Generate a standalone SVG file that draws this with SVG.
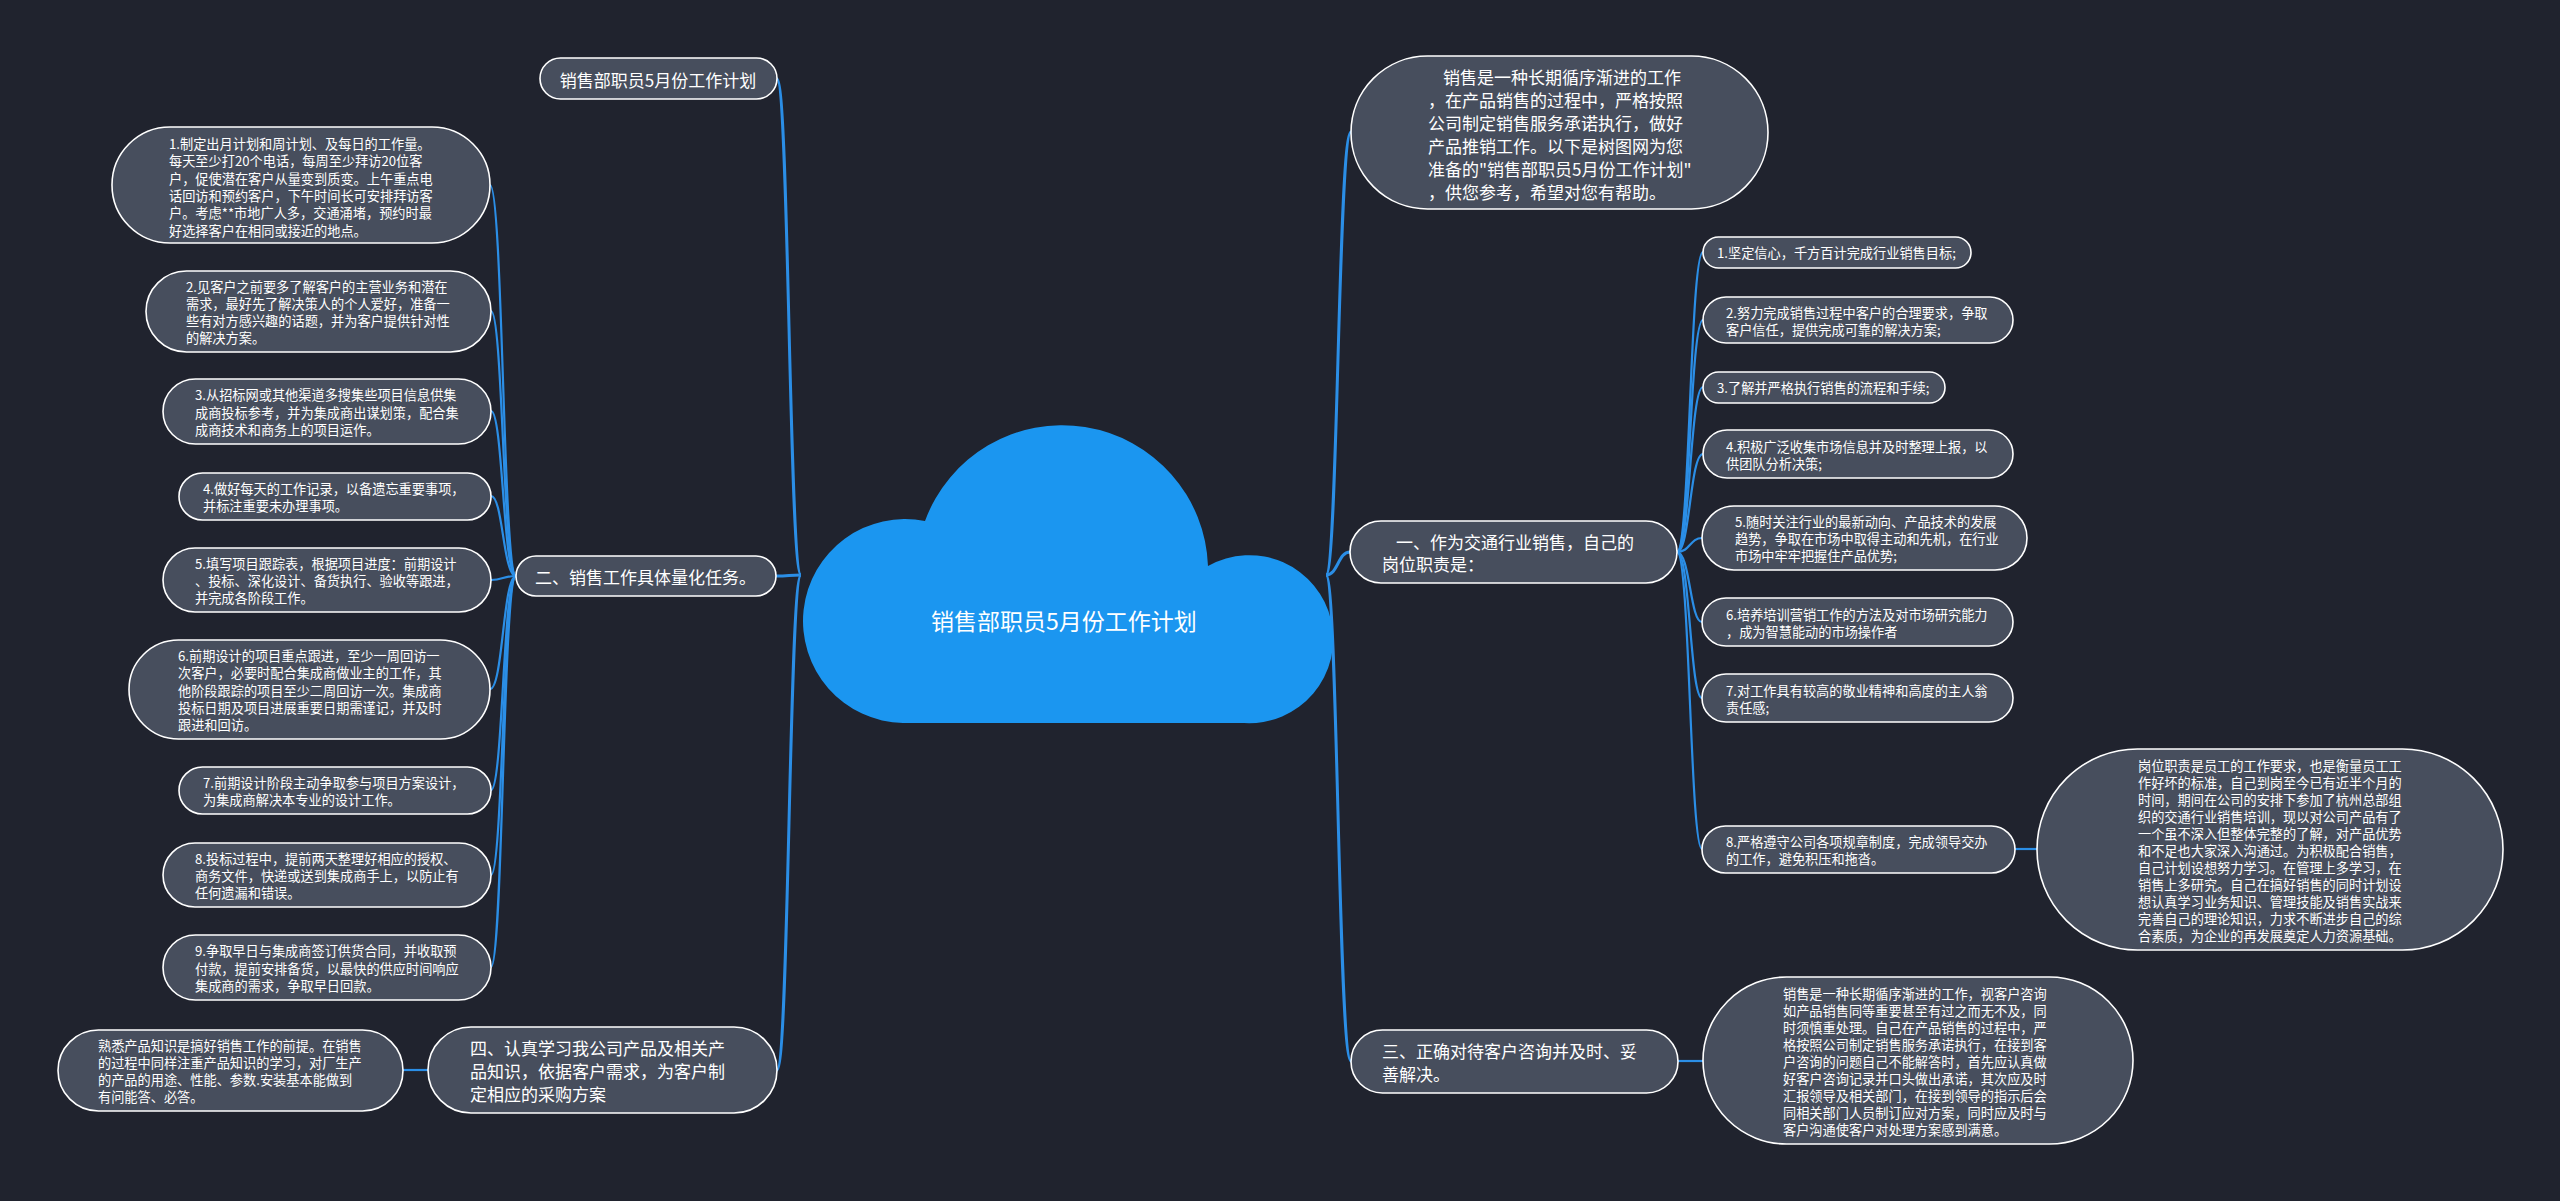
<svg xmlns="http://www.w3.org/2000/svg" width="2560" height="1201" viewBox="0 0 2560 1201">
<style>
.bg{fill:#20232e}
.nd{fill:#474e5d;stroke:#ffffff;stroke-width:1.6}
.ln{fill:none;stroke:#2b8ee6;stroke-width:2.2}
.ln1{fill:none;stroke:#2b8ee6;stroke-width:3}
text{font-family:"Noto Sans CJK SC","Microsoft YaHei",sans-serif;fill:#ffffff;dominant-baseline:central}
.s{font-size:13.2px}
.m{font-size:17px}
.c{font-size:23px;text-anchor:middle}
</style>
<rect class="bg" x="0" y="0" width="2560" height="1201"/>

<g id="connectors">
  <path class="ln1" d="M801 575 C789 575 789 79 777 79"/>
  <path class="ln1" d="M801 575 C789 575 789 576 776 576"/>
  <path class="ln1" d="M801 575 C789 575 789 1070 777 1070"/>
  <path class="ln1" d="M1326 575 C1338 575 1338 132 1351 132"/>
  <path class="ln1" d="M1326 575 C1338 575 1338 552 1350 552"/>
  <path class="ln1" d="M1326 575 C1338 575 1338 1061 1351 1061"/>
  <path class="ln" d="M516 576 C503 576 503 185 490 185"/>
  <path class="ln" d="M516 576 C503 576 503 311 491 311"/>
  <path class="ln" d="M516 576 C503 576 503 411 491 411"/>
  <path class="ln" d="M516 576 C503 576 503 496 491 496"/>
  <path class="ln" d="M516 576 C503 576 503 580 491 580"/>
  <path class="ln" d="M516 576 C503 576 503 689 490 689"/>
  <path class="ln" d="M516 576 C503 576 503 790 491 790"/>
  <path class="ln" d="M516 576 C503 576 503 875 491 875"/>
  <path class="ln" d="M516 576 C503 576 503 967 491 967"/>
  <path class="ln" d="M428 1070 L403 1070"/>
  <path class="ln" d="M1677 552 C1690 552 1690 252 1703 252"/>
  <path class="ln" d="M1677 552 C1690 552 1690 320 1703 320"/>
  <path class="ln" d="M1677 552 C1690 552 1690 387 1703 387"/>
  <path class="ln" d="M1677 552 C1690 552 1690 454 1703 454"/>
  <path class="ln" d="M1677 552 C1690 552 1690 538 1702 538"/>
  <path class="ln" d="M1677 552 C1690 552 1690 622 1702 622"/>
  <path class="ln" d="M1677 552 C1690 552 1690 698 1702 698"/>
  <path class="ln" d="M1677 552 C1690 552 1690 849 1702 849"/>
  <path class="ln" d="M2015 849 L2037 849"/>
  <path class="ln" d="M1678 1061 L1703 1061"/>
</g>

<g id="root">
  <path d="M903 723 A102 102 0 1 1 925 521 A146 146 0 0 1 1208 566 A84 84 0 1 1 1244 723 Z" fill="#1b96f0"/>
  <text class="c" x="1064" y="620">销售部职员5月份工作计划</text>
</g>

<g id="n-title">
  <rect class="nd" x="540" y="58" width="237" height="41" rx="20.5"/>
  <text class="m" x="658" y="79" text-anchor="middle">销售部职员5月份工作计划</text>
</g>

<g id="n-er">
  <rect class="nd" x="516" y="556" width="260" height="40" rx="20"/>
  <text class="m" x="535" y="576">二、销售工作具体量化任务。</text>
</g>

<g id="n-l1">
  <rect class="nd" x="112" y="127" width="378" height="116" rx="58"/>
  <text class="s" x="169"><tspan x="169" y="143">1.制定出月计划和周计划、及每日的工作量。</tspan><tspan x="169" y="160.3">每天至少打20个电话，每周至少拜访20位客</tspan><tspan x="169" y="177.6">户，促使潜在客户从量变到质变。上午重点电</tspan><tspan x="169" y="194.9">话回访和预约客户，下午时间长可安排拜访客</tspan><tspan x="169" y="212.2">户。考虑**市地广人多，交通涌堵，预约时最</tspan><tspan x="169" y="229.5">好选择客户在相同或接近的地点。</tspan></text>
</g>

<g id="n-l2">
  <rect class="nd" x="146" y="271" width="345" height="81" rx="40.5"/>
  <text class="s"><tspan x="186" y="285.5">2.见客户之前要多了解客户的主营业务和潜在</tspan><tspan x="186" y="302.8">需求，最好先了解决策人的个人爱好，准备一</tspan><tspan x="186" y="320.1">些有对方感兴趣的话题，并为客户提供针对性</tspan><tspan x="186" y="337.4">的解决方案。</tspan></text>
</g>

<g id="n-l3">
  <rect class="nd" x="163" y="379" width="328" height="65" rx="32.5"/>
  <text class="s"><tspan x="195" y="394.2">3.从招标网或其他渠道多搜集些项目信息供集</tspan><tspan x="195" y="411.5">成商投标参考，并为集成商出谋划策，配合集</tspan><tspan x="195" y="428.8">成商技术和商务上的项目运作。</tspan></text>
</g>

<g id="n-l4">
  <rect class="nd" x="179" y="473" width="312" height="47" rx="23.5"/>
  <text class="s"><tspan x="203" y="488">4.做好每天的工作记录，以备遗忘重要事项，</tspan><tspan x="203" y="505.3">并标注重要未办理事项。</tspan></text>
</g>

<g id="n-l5">
  <rect class="nd" x="163" y="548" width="328" height="64" rx="32"/>
  <text class="s"><tspan x="195" y="562.7">5.填写项目跟踪表，根据项目进度：前期设计</tspan><tspan x="195" y="580">、投标、深化设计、备货执行、验收等跟进，</tspan><tspan x="195" y="597.3">并完成各阶段工作。</tspan></text>
</g>

<g id="n-l6">
  <rect class="nd" x="129" y="640" width="361" height="99" rx="49.5"/>
  <text class="s"><tspan x="178" y="655">6.前期设计的项目重点跟进，至少一周回访一</tspan><tspan x="178" y="672.3">次客户，必要时配合集成商做业主的工作，其</tspan><tspan x="178" y="689.6">他阶段跟踪的项目至少二周回访一次。集成商</tspan><tspan x="178" y="706.9">投标日期及项目进展重要日期需谨记，并及时</tspan><tspan x="178" y="724.2">跟进和回访。</tspan></text>
</g>

<g id="n-l7">
  <rect class="nd" x="179" y="767" width="312" height="47" rx="23.5"/>
  <text class="s"><tspan x="203" y="782">7.前期设计阶段主动争取参与项目方案设计，</tspan><tspan x="203" y="799.3">为集成商解决本专业的设计工作。</tspan></text>
</g>

<g id="n-l8">
  <rect class="nd" x="163" y="843" width="328" height="64" rx="32"/>
  <text class="s"><tspan x="195" y="857.7">8.投标过程中，提前两天整理好相应的授权、</tspan><tspan x="195" y="875">商务文件，快递或送到集成商手上，以防止有</tspan><tspan x="195" y="892.3">任何遗漏和错误。</tspan></text>
</g>

<g id="n-l9">
  <rect class="nd" x="163" y="935" width="328" height="65" rx="32.5"/>
  <text class="s"><tspan x="195" y="950.2">9.争取早日与集成商签订供货合同，并收取预</tspan><tspan x="195" y="967.5">付款，提前安排备货，以最快的供应时间响应</tspan><tspan x="195" y="984.8">集成商的需求，争取早日回款。</tspan></text>
</g>

<g id="n-si">
  <rect class="nd" x="428" y="1027" width="349" height="86" rx="43"/>
  <text class="m"><tspan x="470" y="1047">四、认真学习我公司产品及相关产</tspan><tspan x="470" y="1070">品知识，依据客户需求，为客户制</tspan><tspan x="470" y="1093">定相应的采购方案</tspan></text>
</g>

<g id="n-si1">
  <rect class="nd" x="58" y="1030" width="345" height="81" rx="40.5"/>
  <text class="s"><tspan x="98" y="1044.5">熟悉产品知识是搞好销售工作的前提。在销售</tspan><tspan x="98" y="1061.8">的过程中同样注重产品知识的学习，对厂生产</tspan><tspan x="98" y="1079.1">的产品的用途、性能、参数.安装基本能做到</tspan><tspan x="98" y="1096.4">有问能答、必答。</tspan></text>
</g>

<g id="n-intro">
  <rect class="nd" x="1351" y="56" width="417" height="153" rx="76.5"/>
  <text class="m"><tspan x="1443" y="76">销售是一种长期循序渐进的工作</tspan><tspan x="1428" y="99">，在产品销售的过程中，严格按照</tspan><tspan x="1428" y="122">公司制定销售服务承诺执行，做好</tspan><tspan x="1428" y="145">产品推销工作。以下是树图网为您</tspan><tspan x="1428" y="168">准备的"销售部职员5月份工作计划"</tspan><tspan x="1428" y="191">，供您参考，希望对您有帮助。</tspan></text>
</g>

<g id="n-yi">
  <rect class="nd" x="1350" y="521" width="327" height="62" rx="31"/>
  <text class="m"><tspan x="1396" y="541">一、作为交通行业销售，自己的</tspan><tspan x="1382" y="563">岗位职责是：</tspan></text>
</g>

<g id="n-r1">
  <rect class="nd" x="1703" y="237" width="268" height="31" rx="15.5"/>
  <text class="s" x="1717" y="252.5">1.坚定信心，千方百计完成行业销售目标;</text>
</g>

<g id="n-r2">
  <rect class="nd" x="1703" y="297" width="310" height="46" rx="23"/>
  <text class="s"><tspan x="1726" y="311.5">2.努力完成销售过程中客户的合理要求，争取</tspan><tspan x="1726" y="328.5">客户信任，提供完成可靠的解决方案;</tspan></text>
</g>

<g id="n-r3">
  <rect class="nd" x="1703" y="372" width="242" height="31" rx="15.5"/>
  <text class="s" x="1717" y="387.5">3.了解并严格执行销售的流程和手续;</text>
</g>

<g id="n-r4">
  <rect class="nd" x="1703" y="430" width="310" height="48" rx="24"/>
  <text class="s"><tspan x="1726" y="445.5">4.积极广泛收集市场信息并及时整理上报，以</tspan><tspan x="1726" y="462.5">供团队分析决策;</tspan></text>
</g>

<g id="n-r5">
  <rect class="nd" x="1702" y="506" width="325" height="64" rx="32"/>
  <text class="s"><tspan x="1735" y="521">5.随时关注行业的最新动向、产品技术的发展</tspan><tspan x="1735" y="538">趋势，争取在市场中取得主动和先机，在行业</tspan><tspan x="1735" y="555">市场中牢牢把握住产品优势;</tspan></text>
</g>

<g id="n-r6">
  <rect class="nd" x="1702" y="598" width="311" height="48" rx="24"/>
  <text class="s"><tspan x="1726" y="613.5">6.培养培训营销工作的方法及对市场研究能力</tspan><tspan x="1726" y="630.5">，成为智慧能动的市场操作者</tspan></text>
</g>

<g id="n-r7">
  <rect class="nd" x="1702" y="674" width="311" height="48" rx="24"/>
  <text class="s"><tspan x="1726" y="689.5">7.对工作具有较高的敬业精神和高度的主人翁</tspan><tspan x="1726" y="706.5">责任感;</tspan></text>
</g>

<g id="n-r8">
  <rect class="nd" x="1702" y="826" width="313" height="47" rx="23.5"/>
  <text class="s"><tspan x="1726" y="841">8.严格遵守公司各项规章制度，完成领导交办</tspan><tspan x="1726" y="858">的工作，避免积压和拖沓。</tspan></text>
</g>

<g id="n-r8a">
  <rect class="nd" x="2037" y="749" width="466" height="201" rx="100.5"/>
  <text class="s"><tspan x="2138" y="764.5">岗位职责是员工的工作要求，也是衡量员工工</tspan><tspan x="2138" y="781.5">作好坏的标准，自己到岗至今已有近半个月的</tspan><tspan x="2138" y="798.5">时间，期间在公司的安排下参加了杭州总部组</tspan><tspan x="2138" y="815.5">织的交通行业销售培训，现以对公司产品有了</tspan><tspan x="2138" y="832.5">一个虽不深入但整体完整的了解，对产品优势</tspan><tspan x="2138" y="849.5">和不足也大家深入沟通过。为积极配合销售，</tspan><tspan x="2138" y="866.5">自己计划设想努力学习。在管理上多学习，在</tspan><tspan x="2138" y="883.5">销售上多研究。自己在搞好销售的同时计划设</tspan><tspan x="2138" y="900.5">想认真学习业务知识、管理技能及销售实战来</tspan><tspan x="2138" y="917.5">完善自己的理论知识，力求不断进步自己的综</tspan><tspan x="2138" y="934.5">合素质，为企业的再发展奠定人力资源基础。</tspan></text>
</g>

<g id="n-san">
  <rect class="nd" x="1351" y="1030" width="327" height="63" rx="31.5"/>
  <text class="m"><tspan x="1382" y="1050">三、正确对待客户咨询并及时、妥</tspan><tspan x="1382" y="1073">善解决。</tspan></text>
</g>

<g id="n-san1">
  <rect class="nd" x="1703" y="977" width="430" height="167" rx="83.5"/>
  <text class="s"><tspan x="1783" y="992.5">销售是一种长期循序渐进的工作，视客户咨询</tspan><tspan x="1783" y="1009.5">如产品销售同等重要甚至有过之而无不及，同</tspan><tspan x="1783" y="1026.5">时须慎重处理。自己在产品销售的过程中，严</tspan><tspan x="1783" y="1043.5">格按照公司制定销售服务承诺执行，在接到客</tspan><tspan x="1783" y="1060.5">户咨询的问题自己不能解答时，首先应认真做</tspan><tspan x="1783" y="1077.5">好客户咨询记录并口头做出承诺，其次应及时</tspan><tspan x="1783" y="1094.5">汇报领导及相关部门，在接到领导的指示后会</tspan><tspan x="1783" y="1111.5">同相关部门人员制订应对方案，同时应及时与</tspan><tspan x="1783" y="1128.5">客户沟通使客户对处理方案感到满意。</tspan></text>
</g>
</svg>
